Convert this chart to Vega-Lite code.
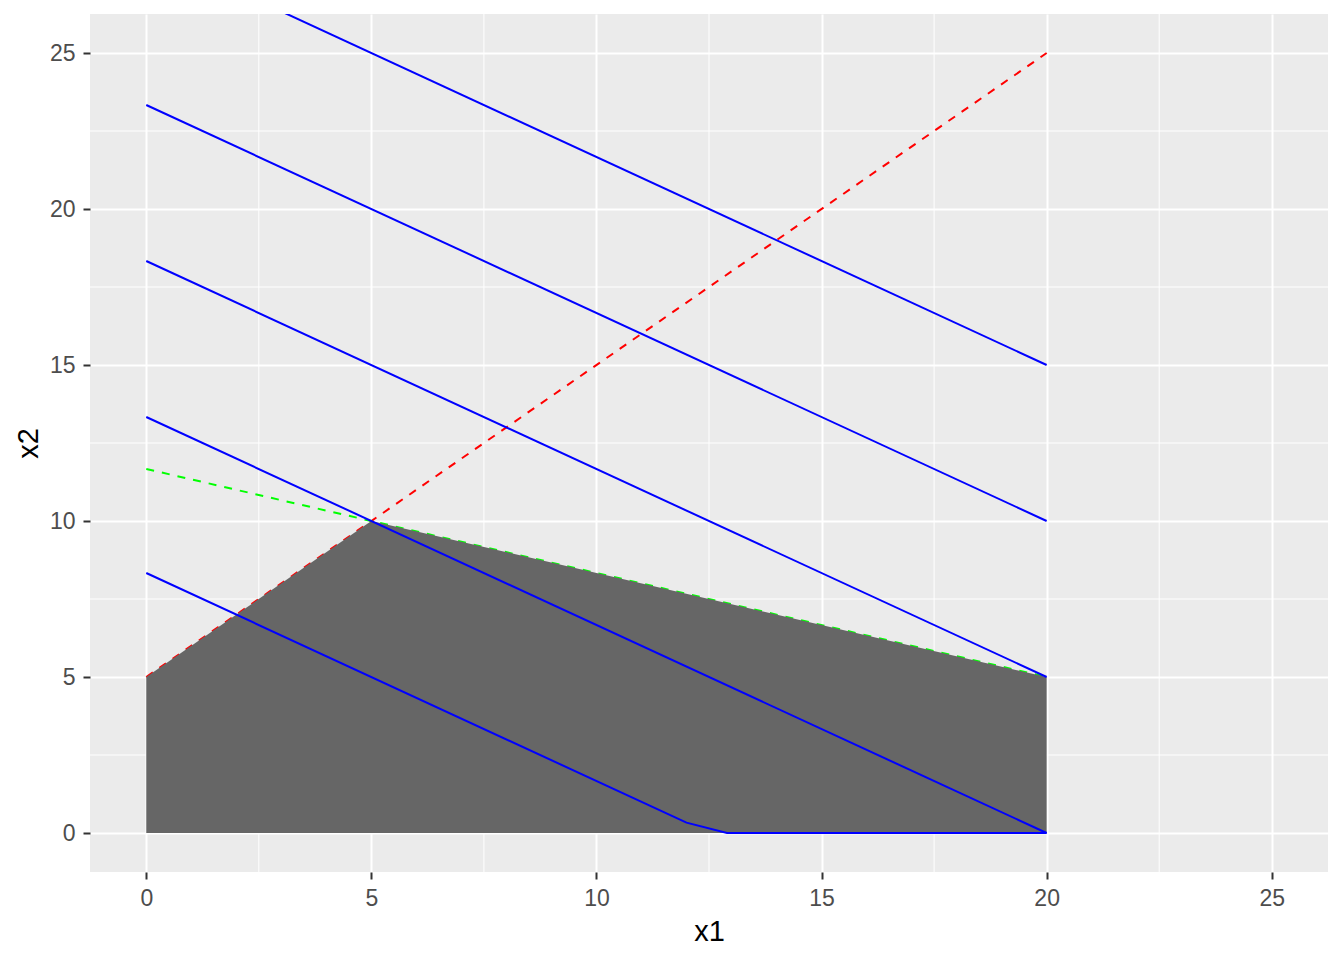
{
  "$schema": "https://vega.github.io/schema/vega-lite/v6.json",
  "width": 1238,
  "height": 858,
  "autosize": {"type": "none"},
  "padding": {"left": 90, "top": 14, "right": 16, "bottom": 88},
  "background": "white",
  "config": {
    "view": {"fill": "#EBEBEB", "stroke": null},
    "axis": {
      "domain": false,
      "grid": true,
      "gridColor": "white",
      "gridWidth": 2,
      "tickColor": "#333333",
      "tickWidth": 2,
      "tickSize": 7,
      "labelFont": "Liberation Sans",
      "labelFontSize": 23,
      "labelColor": "#4D4D4D",
      "labelPadding": 8,
      "titleFont": "Liberation Sans",
      "titleFontSize": 29,
      "titleFontWeight": "normal",
      "titleColor": "black"
    },
    "axisX": {"titlePadding": 7},
    "axisY": {"titlePadding": 6}
  },
  "datasets": {
    "minorx": [{"x1": 2.5}, {"x1": 7.5}, {"x1": 12.5}, {"x1": 17.5}, {"x1": 22.5}],
    "minory": [{"x2": 2.5}, {"x2": 7.5}, {"x2": 12.5}, {"x2": 17.5}, {"x2": 22.5}],
    "lines": [
      {"id": "z1", "x1": 0, "x2": 8.333},
      {"id": "z1", "x1": 12, "x2": 0.333},
      {"id": "z1", "x1": 12.9, "x2": 0},
      {"id": "z1", "x1": 20, "x2": 0},
      {"id": "z2", "x1": 0, "x2": 13.333},
      {"id": "z2", "x1": 20, "x2": 0},
      {"id": "z3", "x1": 0, "x2": 18.333},
      {"id": "z3", "x1": 20, "x2": 5},
      {"id": "z4", "x1": 0, "x2": 23.333},
      {"id": "z4", "x1": 20, "x2": 10},
      {"id": "z5", "x1": 0, "x2": 28.333},
      {"id": "z5", "x1": 20, "x2": 15},
      {"id": "red", "x1": 0, "x2": 5},
      {"id": "red", "x1": 20, "x2": 25},
      {"id": "green", "x1": 0, "x2": 11.667},
      {"id": "green", "x1": 20, "x2": 5}
    ],
    "region": [
      {"x1": 0, "x2": 5},
      {"x1": 5, "x2": 10},
      {"x1": 20, "x2": 5}
    ]
  },
  "layer": [
    {
      "data": {"name": "minorx"},
      "mark": {"type": "rule", "color": "white", "strokeWidth": 1},
      "encoding": {
        "x": {"field": "x1", "type": "quantitative", "title": "x1",
              "scale": {"domain": [-1.25, 26.25], "nice": false, "zero": false},
              "axis": {"values": [0, 5, 10, 15, 20, 25]}}
      }
    },
    {
      "data": {"name": "minory"},
      "mark": {"type": "rule", "color": "white", "strokeWidth": 1},
      "encoding": {
        "y": {"field": "x2", "type": "quantitative", "title": "x2",
              "scale": {"domain": [-1.25, 26.25], "nice": false, "zero": false},
              "axis": {"values": [0, 5, 10, 15, 20, 25]}}
      }
    },
    {
      "data": {"name": "lines"},
      "transform": [{"filter": "datum.id == 'red'"}],
      "mark": {"type": "line", "color": "#FF0000", "strokeWidth": 2, "strokeDash": [8, 8]},
      "encoding": {
        "x": {"field": "x1", "type": "quantitative", "title": "x1",
              "scale": {"domain": [-1.25, 26.25], "nice": false, "zero": false},
              "axis": {"values": [0, 5, 10, 15, 20, 25]}},
        "y": {"field": "x2", "type": "quantitative", "title": "x2",
              "scale": {"domain": [-1.25, 26.25], "nice": false, "zero": false},
              "axis": {"values": [0, 5, 10, 15, 20, 25]}}
      }
    },
    {
      "data": {"name": "lines"},
      "transform": [{"filter": "datum.id == 'green'"}],
      "mark": {"type": "line", "color": "#00FF00", "strokeWidth": 2, "strokeDash": [8, 8]},
      "encoding": {
        "x": {"field": "x1", "type": "quantitative", "title": "x1",
              "scale": {"domain": [-1.25, 26.25], "nice": false, "zero": false},
              "axis": {"values": [0, 5, 10, 15, 20, 25]}},
        "y": {"field": "x2", "type": "quantitative", "title": "x2",
              "scale": {"domain": [-1.25, 26.25], "nice": false, "zero": false},
              "axis": {"values": [0, 5, 10, 15, 20, 25]}}
      }
    },
    {
      "data": {"name": "region"},
      "mark": {"type": "area", "color": "#666666"},
      "encoding": {
        "x": {"field": "x1", "type": "quantitative", "title": "x1",
              "scale": {"domain": [-1.25, 26.25], "nice": false, "zero": false},
              "axis": {"values": [0, 5, 10, 15, 20, 25]}},
        "y": {"field": "x2", "type": "quantitative", "title": "x2",
              "scale": {"domain": [-1.25, 26.25], "nice": false, "zero": false},
              "axis": {"values": [0, 5, 10, 15, 20, 25]}},
        "y2": {"datum": 0}
      }
    },
    {
      "data": {"name": "lines"},
      "transform": [{"filter": "datum.id != 'red' && datum.id != 'green'"}],
      "mark": {"type": "line", "color": "#0000FF", "strokeWidth": 2, "clip": true},
      "encoding": {
        "x": {"field": "x1", "type": "quantitative", "title": "x1",
              "scale": {"domain": [-1.25, 26.25], "nice": false, "zero": false},
              "axis": {"values": [0, 5, 10, 15, 20, 25]}},
        "y": {"field": "x2", "type": "quantitative", "title": "x2",
              "scale": {"domain": [-1.25, 26.25], "nice": false, "zero": false},
              "axis": {"values": [0, 5, 10, 15, 20, 25]}},
        "detail": {"field": "id"}
      }
    }
  ]
}
